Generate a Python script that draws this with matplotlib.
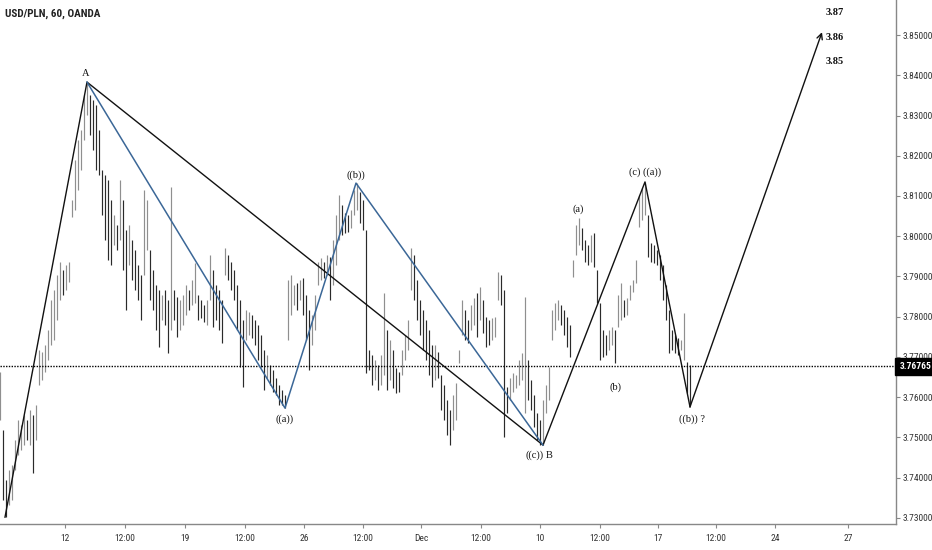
import numpy as np
import matplotlib
matplotlib.use("Agg")
import matplotlib.pyplot as plt
from matplotlib import font_manager

highs = [3.7662, 3.7519, 3.7394, 3.7419, 3.7432, 3.7494, 3.7543, 3.7531, 3.7556, 3.7543,
         3.7568, 3.7556, 3.7581, 3.7717, 3.7712, 3.7730, 3.7767, 3.7842, 3.7866, 3.7903,
         3.7935, 3.7916, 3.7929, 3.7935, 3.8090, 3.8189, 3.8239, 3.8264, 3.8351, 3.8383,
         3.8351, 3.8339, 3.8326, 3.8264, 3.8165, 3.8152, 3.8140, 3.8090, 3.8053, 3.8028,
         3.8140, 3.8090, 3.8015, 3.8028, 3.7991, 3.7966, 3.7929, 3.7903, 3.8115, 3.8090,
         3.7966, 3.7916, 3.7879, 3.7866, 3.7854, 3.7866, 3.7842, 3.8122, 3.7866, 3.7849,
         3.7842, 3.7854, 3.7879, 3.7866, 3.7891, 3.7933, 3.7854, 3.7842, 3.7829, 3.7842,
         3.7953, 3.7916, 3.7879, 3.7866, 3.7842, 3.7971, 3.7953, 3.7935, 3.7916, 3.7879,
         3.7842, 3.7792, 3.7817, 3.7812, 3.7804, 3.7792, 3.7779, 3.7755, 3.7717, 3.7705,
         3.7680, 3.7668, 3.7648, 3.7630, 3.7618, 3.7605, 3.7891, 3.7903, 3.7879, 3.7884,
         3.7891, 3.7896, 3.7854, 3.7817, 3.7804, 3.7854, 3.7935, 3.7945, 3.7935, 3.7953,
         3.7948, 3.7991, 3.8053, 3.8102, 3.8077, 3.8058, 3.8053, 3.8065, 3.8115, 3.8132,
         3.8110, 3.8090, 3.8015, 3.7717, 3.7705, 3.7692, 3.7680, 3.7705, 3.7859, 3.7767,
         3.7742, 3.7717, 3.7672, 3.7662, 3.7717, 3.7755, 3.7792, 3.7971, 3.7953, 3.7891,
         3.7842, 3.7817, 3.7792, 3.7767, 3.7730, 3.7730, 3.7712, 3.7655, 3.7630, 3.7593,
         3.7568, 3.7605, 3.7635, 3.7717, 3.7842, 3.7817, 3.7792, 3.7829, 3.7847, 3.7859,
         3.7874, 3.7842, 3.7799, 3.7792, 3.7797, 3.7799, 3.7911, 3.7903, 3.7866, 3.7625,
         3.7648, 3.7660, 3.7655, 3.7692, 3.7710, 3.7849, 3.7692, 3.7643, 3.7605, 3.7561,
         3.7543, 3.7593, 3.7630, 3.7675, 3.7817, 3.7834, 3.7842, 3.7829, 3.7817, 3.7799,
         3.7779, 3.7941, 3.8028, 3.8045, 3.8020, 3.7991, 3.7978, 3.8003, 3.8008, 3.7916,
         3.7834, 3.7767, 3.7755, 3.7767, 3.7774, 3.7767, 3.7854, 3.7884, 3.7842, 3.7847,
         3.7879, 3.7891, 3.7941, 3.8102, 3.8120, 3.8135, 3.8053, 3.7983, 3.7978, 3.7966,
         3.7953, 3.7929, 3.7879, 3.7817, 3.7767, 3.7755, 3.7747, 3.7742, 3.7809, 3.7687,
         3.7680]
lows = [3.7543, 3.7345, 3.7302, 3.7332, 3.7345, 3.7419, 3.7457, 3.7469, 3.7482, 3.7494,
        3.7482, 3.7412, 3.7494, 3.7630, 3.7643, 3.7662, 3.7692, 3.7730, 3.7742, 3.7792,
        3.7842, 3.7854, 3.7866, 3.7886, 3.8048, 3.8065, 3.8115, 3.8165, 3.8239, 3.8301,
        3.8251, 3.8214, 3.8165, 3.8152, 3.8053, 3.7991, 3.7941, 3.7929, 3.7978, 3.7966,
        3.7991, 3.7916, 3.7817, 3.7929, 3.7891, 3.7866, 3.7842, 3.7792, 3.7903, 3.7966,
        3.7842, 3.7817, 3.7767, 3.7725, 3.7792, 3.7779, 3.7710, 3.7767, 3.7792, 3.7750,
        3.7767, 3.7779, 3.7804, 3.7817, 3.7829, 3.7834, 3.7792, 3.7797, 3.7787, 3.7779,
        3.7842, 3.7775, 3.7792, 3.7767, 3.7735, 3.7903, 3.7891, 3.7866, 3.7842, 3.7767,
        3.7675, 3.7625, 3.7742, 3.7755, 3.7747, 3.7730, 3.7692, 3.7675, 3.7618, 3.7648,
        3.7630, 3.7613, 3.7605, 3.7581, 3.7581, 3.7573, 3.7742, 3.7804, 3.7829, 3.7817,
        3.7842, 3.7804, 3.7742, 3.7668, 3.7730, 3.7767, 3.7879, 3.7891, 3.7896, 3.7903,
        3.7842, 3.7879, 3.7929, 3.7991, 3.8003, 3.8008, 3.8010, 3.8020, 3.8053, 3.8065,
        3.8033, 3.8015, 3.7660, 3.7668, 3.7630, 3.7643, 3.7618, 3.7630, 3.7655, 3.7618,
        3.7643, 3.7623, 3.7610, 3.7613, 3.7655, 3.7692, 3.7717, 3.7866, 3.7842, 3.7792,
        3.7755, 3.7717, 3.7692, 3.7655, 3.7625, 3.7643, 3.7648, 3.7568, 3.7543, 3.7506,
        3.7482, 3.7519, 3.7543, 3.7685, 3.7755, 3.7742, 3.7735, 3.7767, 3.7779, 3.7750,
        3.7792, 3.7760, 3.7725, 3.7730, 3.7742, 3.7750, 3.7842, 3.7829, 3.7501, 3.7561,
        3.7593, 3.7613, 3.7623, 3.7630, 3.7643, 3.7561, 3.7593, 3.7568, 3.7526, 3.7494,
        3.7482, 3.7482, 3.7561, 3.7593, 3.7742, 3.7767, 3.7792, 3.7779, 3.7755, 3.7725,
        3.7700, 3.7899, 3.7953, 3.7978, 3.7966, 3.7935, 3.7929, 3.7935, 3.7923, 3.7834,
        3.7692, 3.7700, 3.7705, 3.7717, 3.7730, 3.7685, 3.7775, 3.7792, 3.7799, 3.7804,
        3.7842, 3.7861, 3.7884, 3.8023, 3.8040, 3.8053, 3.7948, 3.7935, 3.7933, 3.7929,
        3.7891, 3.7842, 3.7792, 3.7710, 3.7717, 3.7710, 3.7705, 3.7717, 3.7692, 3.7610,
        3.7580]
last_price = 3.76765

# Elliott wave count drawn on the chart (bar position, price)
black_x = [5, 87, 543, 645, 690]
black_y = [3.7302, 3.8383, 3.7481, 3.8135, 3.7576]
blue_x = [87, 285, 356, 543]
blue_y = [3.8383, 3.7573, 3.8132, 3.7481]
arrow_end = (822, 3.8507)

wave_labels = [("A", 86, 3.8405), ("((a))", 285, 3.7545), ("((b))", 356, 3.8152),
               ("((c))", 535, 3.7455), ("B", 549, 3.7455), ("(a)", 578, 3.8067),
               ("(b)", 615, 3.7625), ("(c) ((a))", 645, 3.8160), ("((b)) ?", 692, 3.7545)]
targets = ["3.87", "3.86", "3.85"]

tick_pos = [65, 125, 185, 245, 304, 363, 421, 481, 540, 600, 658, 716, 775, 848]
tick_lab = ["12", "12:00", "19", "12:00", "26", "12:00", "Dec", "12:00", "10",
            "12:00", "17", "12:00", "24", "27"]

# pick a narrow sans for the TradingView-like scale text
have = {f.name for f in font_manager.fontManager.ttflist}
narrow_name = "Liberation Sans"
for cand in ["Liberation Sans Narrow", "Arial Narrow", "Roboto Condensed",
             "Archivo Narrow", "PT Sans Narrow", "Pragati Narrow", "Open Sans Condensed"]:
    if cand in have:
        narrow_name = cand
        break
narrow = [narrow_name, "DejaVu Sans"]
fs = 6.8 if narrow_name != "Liberation Sans" else 5.6
serif = ["Liberation Serif", "DejaVu Serif"]

highs = np.array(highs)
lows = np.array(lows)
bx = np.arange(len(highs)) * 3
mid = (highs + lows) / 2
up = np.r_[True, mid[1:] >= mid[:-1]]
cols = np.where(up, "#8f8f8f", "#2a2a2a")

fig = plt.figure(figsize=(9.32, 5.5), dpi=100)
ax = fig.add_axes([0, 26 / 550, 896 / 932, 524 / 550])

ax.vlines(bx, lows, highs, colors=cols, linewidth=0.85, zorder=2)
ax.axhline(last_price, color="black", linestyle=(0, (1, 1)), linewidth=1.0, zorder=3)

ax.plot(black_x, black_y, color="#111111", linewidth=1.0, zorder=4)
ax.plot(blue_x, blue_y, color="#3b6797", linewidth=1.1, zorder=4)
ax.annotate("", xy=arrow_end, xytext=(black_x[-1], black_y[-1]),
            arrowprops=dict(arrowstyle="->", color="#111111", lw=1.0,
                            shrinkA=0, shrinkB=0), zorder=4)

for txt, x, y in wave_labels:
    ax.text(x, y, txt, ha="center", va="center", fontsize=7.5, family=serif,
            color="#111111", zorder=5)
for i, t in enumerate(targets):
    ax.text(835, 3.8555 - i * 0.006, t, ha="center", va="center", fontsize=7.5,
            family=serif, fontweight="bold", color="#111111")

ax.set_xlim(0, 896)
ax.set_ylim(3.7285, 3.8587)
ax.set_xticks(tick_pos)
ax.set_xticklabels(tick_lab, family=narrow, fontsize=fs, color="#333333")
ax.set_yticks(np.arange(3.73, 3.8501, 0.01))
ax.set_yticklabels(["%.5f" % v for v in np.arange(3.73, 3.8501, 0.01)],
                   family=narrow, fontsize=fs, color="#333333")
ax.yaxis.tick_right()
ax.tick_params(axis="both", length=3, width=0.8, color="#888888", pad=2)
ax.tick_params(axis="x", pad=4)
for s in ["left", "top"]:
    ax.spines[s].set_visible(False)
for s in ["right", "bottom"]:
    ax.spines[s].set_color("#888888")
    ax.spines[s].set_linewidth(1.0)

# last price box on the price scale
ax.text(1.004, last_price, "%.5f" % last_price, transform=ax.get_yaxis_transform(),
        ha="left", va="center", fontsize=fs, family=narrow, fontweight="bold",
        color="white", zorder=10, clip_on=False,
        bbox=dict(boxstyle="square,pad=0.45", fc="black", ec="black"))

fig.text(5 / 932, 1 - 14 / 550, "USD/PLN, 60, OANDA", ha="left", va="center",
         fontsize=8, family=narrow, fontweight="bold", color="#222222")

fig.savefig("out.png", dpi=100, facecolor="white")
